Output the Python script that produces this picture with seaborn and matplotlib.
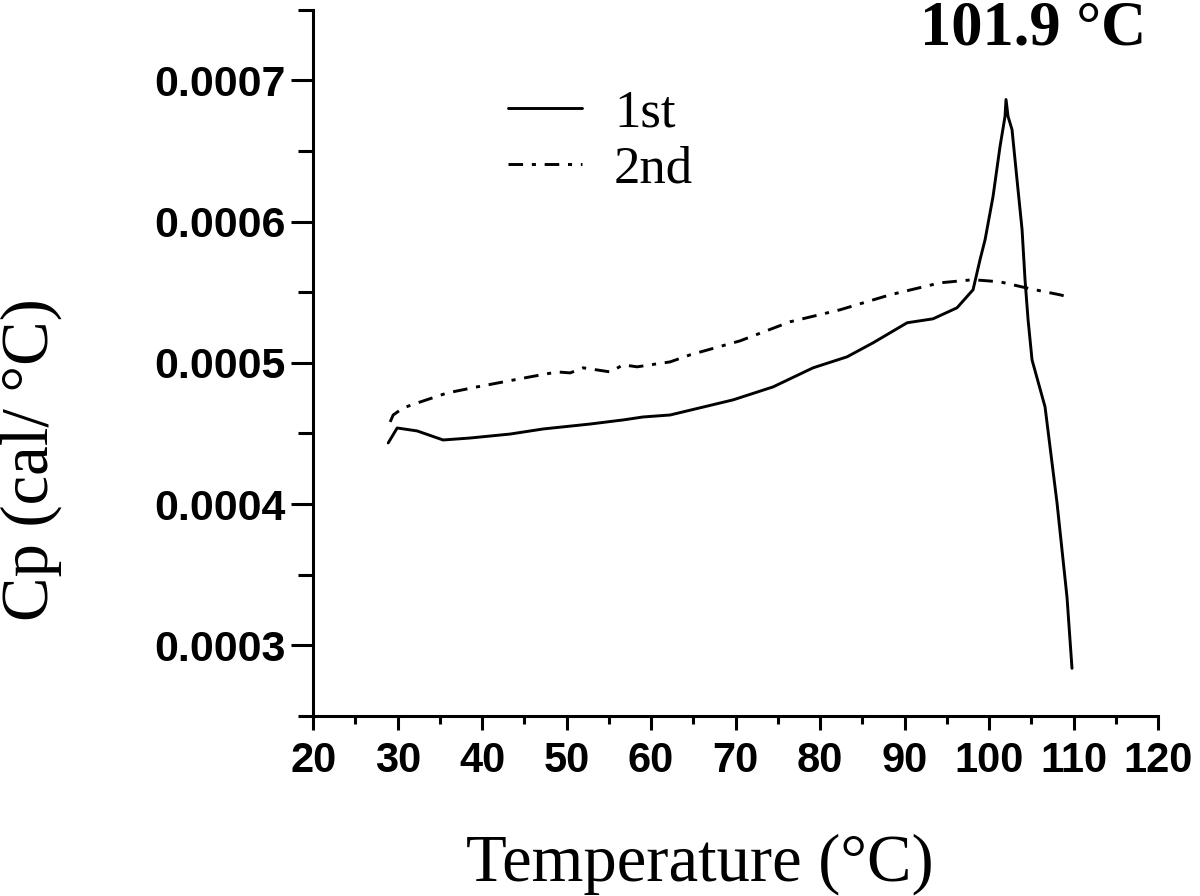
import numpy as np
import pandas as pd
import matplotlib
matplotlib.use("Agg")
import matplotlib.pyplot as plt
from matplotlib.ticker import MultipleLocator, FormatStrFormatter
import seaborn as sns

# first heating scan
t_1st = [28.88, 29.94, 32.31, 35.38, 38.58, 43.31, 47.22, 52.78, 56.69, 59.05,
         62.25, 69.70, 74.44, 79.17, 83.20, 86.27, 90.30, 93.37, 96.21, 98.11,
         98.93, 99.53, 100.47, 101.30, 101.89, 102.01, 102.25, 102.72, 103.31,
         103.91, 104.26, 104.62, 105.09, 106.63, 108.05, 109.23, 109.82]
cp_1st = [0.0004433, 0.0004539, 0.0004518, 0.0004454, 0.0004468, 0.0004496,
          0.0004532, 0.0004567, 0.0004596, 0.0004617, 0.0004631, 0.0004738,
          0.0004830, 0.0004965, 0.0005043, 0.0005142, 0.0005284, 0.0005312,
          0.0005390, 0.0005518, 0.0005730, 0.0005872, 0.0006177, 0.0006532,
          0.0006745, 0.0006865, 0.0006745, 0.0006652, 0.0006298, 0.0005943,
          0.0005589, 0.0005305, 0.0005021, 0.0004688, 0.0004007, 0.0003340,
          0.0002837]

# second heating scan
t_2nd = [29.11, 29.47, 30.65, 32.31, 35.86, 39.41, 42.49, 45.68, 48.88, 50.41,
         51.95, 55.15, 56.69, 58.34, 62.25, 64.62, 70.53, 76.45, 82.37, 88.28,
         94.20, 98.11, 101.30, 104.85, 108.40, 109.35]
cp_2nd = [0.0004582, 0.0004631, 0.0004681, 0.0004716, 0.0004787, 0.0004830,
          0.0004865, 0.0004901, 0.0004936, 0.0004929, 0.0004965, 0.0004936,
          0.0004986, 0.0004972, 0.0005007, 0.0005057, 0.0005156, 0.0005291,
          0.0005376, 0.0005482, 0.0005567, 0.0005589, 0.0005574, 0.0005525,
          0.0005482, 0.0005468]

peak_label = "101.9 °C"

df = pd.concat([
    pd.DataFrame({"T": t_1st, "Cp": cp_1st, "run": "1st"}),
    pd.DataFrame({"T": t_2nd, "Cp": cp_2nd, "run": "2nd"}),
], ignore_index=True)

sns.set_style("ticks")
plt.rcParams["font.family"] = ["Liberation Sans", "DejaVu Sans"]
for k in ["text.color", "axes.labelcolor", "xtick.color", "ytick.color", "axes.edgecolor"]:
    plt.rcParams[k] = "black"

fig = plt.figure(figsize=(12, 8.96), dpi=100)
ax = fig.add_axes([0.261, 0.201, 0.704, 0.788])

sns.lineplot(data=df, x="T", y="Cp", style="run", color="black",
             dashes={"1st": "", "2nd": (5.0, 3.0, 1.4, 3.0)},
             estimator=None, sort=False, lw=2.1, ax=ax)

ax.set_xlim(20, 120)
ax.set_ylim(0.00025, 0.00075)
ax.xaxis.set_major_locator(MultipleLocator(10))
ax.xaxis.set_minor_locator(MultipleLocator(5))
ax.yaxis.set_major_locator(MultipleLocator(0.0001))
ax.yaxis.set_minor_locator(MultipleLocator(0.00005))
ax.yaxis.set_major_formatter(FormatStrFormatter("%.4f"))

for s in ["top", "right"]:
    ax.spines[s].set_visible(False)
for s in ["left", "bottom"]:
    ax.spines[s].set_linewidth(2.2)

ax.tick_params(axis="y", which="major", length=16, width=2.2, pad=4, labelsize=31)
ax.tick_params(axis="y", which="minor", length=11, width=2.2)
ax.tick_params(axis="x", which="major", length=10, width=2.2, pad=8, labelsize=30)
ax.tick_params(axis="x", which="minor", length=6, width=2.2)
for lab in ax.get_xticklabels() + ax.get_yticklabels():
    lab.set_fontweight("bold")

ax.set_xlabel("Temperature (°C)", family="Liberation Serif", fontsize=48)
ax.set_ylabel("Cp (cal/ °C)", family="Liberation Serif", fontsize=48)
ax.xaxis.set_label_coords(0.458, -0.167)
ax.yaxis.set_label_coords(-0.297, 0.363)

handles, labels = ax.get_legend_handles_labels()
leg = ax.legend(handles, labels, loc="upper left", bbox_to_anchor=(0.231, 0.887),
                frameon=False, borderpad=0, borderaxespad=0, handlelength=1.4,
                handletextpad=0.6, labelspacing=0.15,
                prop={"family": "Liberation Serif", "size": 38})
for h in leg.get_lines():
    h.set_linewidth(2.1)

ax.text(105.2, 0.0007255, peak_label, ha="center", va="baseline",
        family="Liberation Serif", fontweight="bold", fontsize=45)

fig.savefig("out.png", dpi=100)
